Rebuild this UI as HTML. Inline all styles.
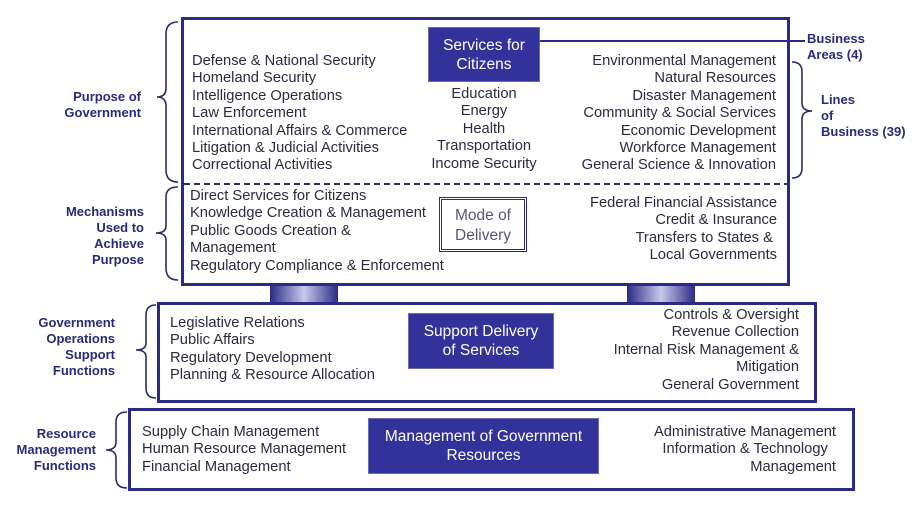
<!DOCTYPE html>
<html><head><meta charset="utf-8"><style>
body{margin:0;width:924px;height:512px;background:#fff;position:relative;overflow:hidden;font-family:"Liberation Sans",Arial,sans-serif;}
.a{position:absolute;}
.t{position:absolute;font-size:14.7px;line-height:17.4px;color:#2a2a40;white-space:nowrap;}
.r{text-align:right;}
.c{text-align:center;}
.lab{position:absolute;font-size:13px;font-weight:bold;line-height:16px;color:#2a2a7a;text-align:right;white-space:nowrap;}
.box{position:absolute;border:3px solid #2b2b86;box-sizing:border-box;}
.nb{position:absolute;background:#32329a;color:#fff;font-size:15.5px;line-height:19px;text-align:center;display:flex;align-items:center;justify-content:center;box-sizing:border-box;border:1px solid #6a6ab0;white-space:nowrap;}
.conn{position:absolute;background:linear-gradient(90deg,#2b2b86,#c8c8ea 50%,#2b2b86);}
</style></head><body>
<div class="conn" style="left:270px;top:284px;width:68px;height:19px"></div>
<div class="conn" style="left:627px;top:284px;width:68px;height:19px"></div>
<div class="box" style="left:181px;top:17px;width:609px;height:269px"></div>
<div class="a" style="left:184px;top:183px;width:606px;border-top:2px dashed #2b2b60"></div>
<div class="box" style="left:157px;top:302px;width:660px;height:101px"></div>
<div class="box" style="left:128px;top:408px;width:727px;height:83px"></div>

<div class="a" style="left:540px;top:40px;width:265px;height:2px;background:#2b2b86"></div>
<div class="nb" style="left:428px;top:27px;width:112px;height:55px">Services for<br>Citizens</div>
<div class="a" style="left:439px;top:197px;width:88px;height:55px;border:3px double #2b2b86;box-sizing:border-box;color:#555577;font-size:15.5px;line-height:20px;text-align:center;padding-top:6px">Mode of<br>Delivery</div>
<div class="nb" style="left:408px;top:313px;width:146px;height:56px">Support Delivery<br>of Services</div>
<div class="nb" style="left:368px;top:418px;width:231px;height:56px">Management of Government<br>Resources</div>

<div class="t" style="left:192px;top:53px">Defense &amp; National Security<br>Homeland Security<br>Intelligence Operations<br>Law Enforcement<br>International Affairs &amp; Commerce<br>Litigation &amp; Judicial Activities<br>Correctional Activities</div>
<div class="t c" style="left:424px;top:86px;width:120px">Education<br>Energy<br>Health<br>Transportation<br>Income Security</div>
<div class="t r" style="left:540px;top:53px;width:236px">Environmental Management<br>Natural Resources<br>Disaster Management<br>Community &amp; Social Services<br>Economic Development<br>Workforce Management<br>General Science &amp; Innovation</div>
<div class="t" style="left:190px;top:188px">Direct Services for Citizens<br>Knowledge Creation &amp; Management<br>Public Goods Creation &amp;<br>Management<br>Regulatory Compliance &amp; Enforcement</div>
<div class="t r" style="left:540px;top:195px;width:237px">Federal Financial Assistance<br>Credit &amp; Insurance<br>Transfers to States &amp;&nbsp;<br>Local Governments</div>
<div class="t" style="left:170px;top:315px">Legislative Relations<br>Public Affairs<br>Regulatory Development<br>Planning &amp; Resource Allocation</div>
<div class="t r" style="left:560px;top:307px;width:239px">Controls &amp; Oversight<br>Revenue Collection<br>Internal Risk Management &amp;<br>Mitigation<br>General Government</div>
<div class="t" style="left:142px;top:424px">Supply Chain Management<br>Human Resource Management<br>Financial Management</div>
<div class="t r" style="left:600px;top:424px;width:236px">Administrative Management<br>Information &amp; Technology&nbsp;&nbsp;<br>Management</div>

<div class="lab" style="left:30px;top:89px;width:111px">Purpose of<br>Government</div>
<div class="lab" style="left:30px;top:204px;width:114px">Mechanisms<br>Used to<br>Achieve<br>Purpose</div>
<div class="lab" style="left:10px;top:315px;width:105px">Government<br>Operations<br>Support<br>Functions</div>
<div class="lab" style="left:0px;top:426px;width:96px">Resource<br>Management<br>Functions</div>
<div class="lab" style="left:807px;top:31px;text-align:left">Business<br>Areas (4)</div>
<div class="lab" style="left:821px;top:92px;text-align:left">Lines<br>of<br>Business (39)</div>

<svg class="a" style="left:0;top:0" width="924" height="512" fill="none" stroke="#2b2b60" stroke-width="1.6">
<path d="M178 22 Q166 22 166 34 V88 Q166 97 157 97 Q166 97 166 106 V170 Q166 182 178 182"/>
<path d="M178 187 Q166 187 166 197 V226 Q166 233 156 233 Q166 233 166 240 V268 Q166 280 178 280"/>
<path d="M156 305 Q146 305 146 315 V343 Q146 350 136 350 Q146 350 146 357 V388 Q146 398 156 398"/>
<path d="M127 412 Q116 412 116 422 V442 Q116 450 106 450 Q116 450 116 458 V478 Q116 488 127 488"/>
<path d="M792 62 Q802 62 802 72 V103 Q802 111 812 111 Q802 111 802 119 V168 Q802 178 792 178"/>
</svg>
</body></html>
